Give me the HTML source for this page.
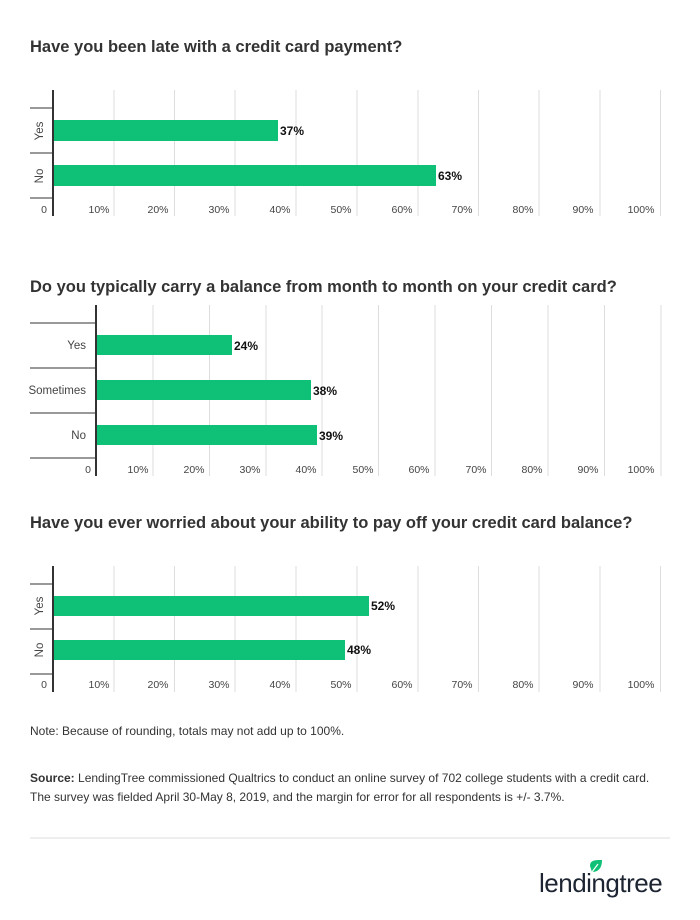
<!DOCTYPE html>
<html><head><style>
body{margin:0;background:#fff;width:700px;height:920px;position:relative;font-family:"Liberation Sans",Arial,sans-serif;color:#333;overflow:hidden}
.t{position:absolute;left:30px;font-size:16.5px;font-weight:bold;color:#333}
.n{position:absolute;left:30px;font-size:12px;color:#333;line-height:19px}
</style></head><body>
<div class="t" style="top:38px">Have you been late with a credit card payment?</div>
<div class="t" style="top:278px">Do you typically carry a balance from month to month on your credit card?</div>
<div class="t" style="top:514px">Have you ever worried about your ability to pay off your credit card balance?</div>
<svg width="700" height="920" style="position:absolute;left:0;top:0" font-family="Liberation Sans, Arial, sans-serif">
<g id="c1">
<g stroke="#ddd" stroke-width="1">
<line x1="114" y1="90" x2="114" y2="216"/><line x1="174.5" y1="90" x2="174.5" y2="216"/><line x1="235" y1="90" x2="235" y2="216"/><line x1="296" y1="90" x2="296" y2="216"/><line x1="357" y1="90" x2="357" y2="216"/><line x1="418" y1="90" x2="418" y2="216"/><line x1="478.5" y1="90" x2="478.5" y2="216"/><line x1="539" y1="90" x2="539" y2="216"/><line x1="600" y1="90" x2="600" y2="216"/><line x1="660.5" y1="90" x2="660.5" y2="216"/>
</g>
<g stroke="#333" stroke-width="1"><line x1="30" y1="108" x2="53" y2="108"/><line x1="30" y1="153" x2="53" y2="153"/><line x1="30" y1="198" x2="53" y2="198"/></g>
<line x1="53" y1="90" x2="53" y2="216" stroke="#333" stroke-width="2"/>
<rect x="54" y="120" width="224" height="21" fill="#0fc176"/>
<rect x="54" y="165" width="382" height="21" fill="#0fc176"/>
<g font-size="12" font-weight="bold" fill="#111"><text x="280" y="135">37%</text><text x="438" y="180">63%</text></g>
<g font-size="11.5" fill="#444"><text transform="translate(43,131) rotate(-90)" text-anchor="middle">Yes</text><text transform="translate(43,176) rotate(-90)" text-anchor="middle">No</text></g>
<g font-size="10.5" fill="#444" text-anchor="middle"><text x="44" y="213">0</text><text x="99" y="213">10%</text><text x="158" y="213">20%</text><text x="219" y="213">30%</text><text x="280" y="213">40%</text><text x="341" y="213">50%</text><text x="402" y="213">60%</text><text x="462" y="213">70%</text><text x="523" y="213">80%</text><text x="583" y="213">90%</text><text x="641" y="213">100%</text></g>
</g>
<g>
<g stroke="#ddd" stroke-width="1">
<line x1="153" y1="305" x2="153" y2="476"/><line x1="209.5" y1="305" x2="209.5" y2="476"/><line x1="266" y1="305" x2="266" y2="476"/><line x1="322" y1="305" x2="322" y2="476"/><line x1="378.5" y1="305" x2="378.5" y2="476"/><line x1="435" y1="305" x2="435" y2="476"/><line x1="491.5" y1="305" x2="491.5" y2="476"/><line x1="548" y1="305" x2="548" y2="476"/><line x1="604.5" y1="305" x2="604.5" y2="476"/><line x1="661" y1="305" x2="661" y2="476"/>
</g>
<g stroke="#333" stroke-width="1"><line x1="30" y1="323" x2="96" y2="323"/><line x1="30" y1="368" x2="96" y2="368"/><line x1="30" y1="413" x2="96" y2="413"/><line x1="30" y1="458" x2="96" y2="458"/></g>
<line x1="96" y1="305" x2="96" y2="476" stroke="#333" stroke-width="2"/>
<rect x="97" y="335" width="135" height="20" fill="#0fc176"/>
<rect x="97" y="380" width="214" height="20" fill="#0fc176"/>
<rect x="97" y="425" width="220" height="20" fill="#0fc176"/>
<g font-size="12" font-weight="bold" fill="#111"><text x="234" y="350">24%</text><text x="313" y="395">38%</text><text x="319" y="440">39%</text></g>
<g font-size="11.5" fill="#444" text-anchor="end"><text x="86" y="349">Yes</text><text x="86" y="394">Sometimes</text><text x="86" y="439">No</text></g>
<g font-size="10.5" fill="#444" text-anchor="middle"><text x="88" y="473">0</text><text x="138" y="473">10%</text><text x="194" y="473">20%</text><text x="250" y="473">30%</text><text x="306" y="473">40%</text><text x="363" y="473">50%</text><text x="419" y="473">60%</text><text x="476" y="473">70%</text><text x="532" y="473">80%</text><text x="588" y="473">90%</text><text x="641" y="473">100%</text></g>
</g>
<g transform="translate(0,476)">
<g stroke="#ddd" stroke-width="1">
<line x1="114" y1="90" x2="114" y2="216"/><line x1="174.5" y1="90" x2="174.5" y2="216"/><line x1="235" y1="90" x2="235" y2="216"/><line x1="296" y1="90" x2="296" y2="216"/><line x1="357" y1="90" x2="357" y2="216"/><line x1="418" y1="90" x2="418" y2="216"/><line x1="478.5" y1="90" x2="478.5" y2="216"/><line x1="539" y1="90" x2="539" y2="216"/><line x1="600" y1="90" x2="600" y2="216"/><line x1="660.5" y1="90" x2="660.5" y2="216"/>
</g>
<g stroke="#333" stroke-width="1"><line x1="30" y1="108" x2="53" y2="108"/><line x1="30" y1="153" x2="53" y2="153"/><line x1="30" y1="198" x2="53" y2="198"/></g>
<line x1="53" y1="90" x2="53" y2="216" stroke="#333" stroke-width="2"/>
<rect x="54" y="120" width="315" height="20" fill="#0fc176"/>
<rect x="54" y="164" width="291" height="20" fill="#0fc176"/>
<g font-size="12" font-weight="bold" fill="#111"><text x="371" y="134">52%</text><text x="347" y="178">48%</text></g>
<g font-size="11.5" fill="#444"><text transform="translate(43,130) rotate(-90)" text-anchor="middle">Yes</text><text transform="translate(43,174) rotate(-90)" text-anchor="middle">No</text></g>
<g font-size="10.5" fill="#444" text-anchor="middle"><text x="44" y="212">0</text><text x="99" y="212">10%</text><text x="158" y="212">20%</text><text x="219" y="212">30%</text><text x="280" y="212">40%</text><text x="341" y="212">50%</text><text x="402" y="212">60%</text><text x="462" y="212">70%</text><text x="523" y="212">80%</text><text x="583" y="212">90%</text><text x="641" y="212">100%</text></g>
</g>
<line x1="30" y1="838" x2="670" y2="838" stroke="#ddd"/>
<path d="M590 866 C590 860 595 860 602 860 C602 866 600 872 592 872 Z" fill="#0fc176"/>
<path d="M592 872 L598 864" stroke="#fff" stroke-width="1.2"/>
<text x="539" y="892" font-size="26" fill="#1e2532" letter-spacing="-0.5">lendingtree</text>
</svg>
<div class="n" style="top:722px">Note: Because of rounding, totals may not add up to 100%.</div>
<div class="n" style="top:769px"><b>Source:</b> LendingTree commissioned Qualtrics to conduct an online survey of 702 college students with a credit card.<br>The survey was fielded April 30-May 8, 2019, and the margin for error for all respondents is +/- 3.7%.</div>
</body></html>
